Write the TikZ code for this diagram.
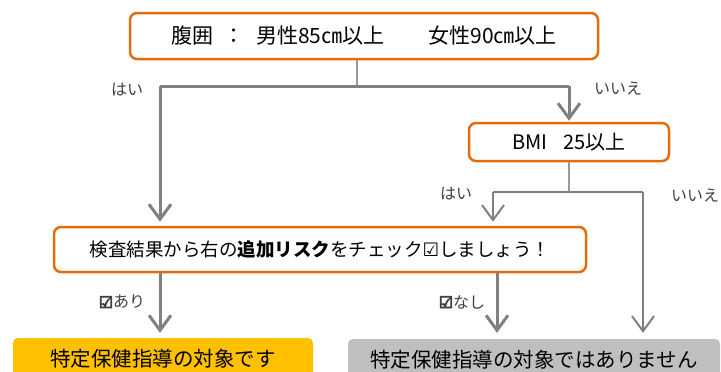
\documentclass[tikz,border=0pt]{standalone}
\usepackage{fontspec}
\setmainfont{Noto Sans CJK JP}
\newfontfamily\symfont{DejaVu Sans}
\newfontfamily\symboldfont[FakeBold=6]{DejaVu Sans}
\usepackage{tikz}
\usetikzlibrary{arrows.meta}
\usepackage{xcolor}
\definecolor{boxorange}{RGB}{228,108,10}
\definecolor{goldfill}{RGB}{255,192,0}
\definecolor{greyfill}{RGB}{191,191,191}
\definecolor{linegrey}{RGB}{128,128,128}
\definecolor{labelgrey}{RGB}{64,64,64}

\begin{document}
\begin{tikzpicture}[x=1pt, y=-1pt,
  question/.style={draw=boxorange, line width=2.5pt, rounded corners=7pt, fill=white, inner sep=0pt},
  result/.style={rounded corners=5pt, inner sep=0pt, minimum height=42pt, font=\fontsize{20.5pt}{24pt}\selectfont},
  answer/.style={text=labelgrey, inner sep=0pt, font=\fontsize{16pt}{19pt}\selectfont},
  flow/.style={draw=linegrey, line width=3pt},
  branch/.style={draw=linegrey, line width=2pt},
  stem/.style={draw=linegrey!80, line width=1.5pt},
  tip/.style={-{Straight Barb[length=15pt, width=22pt]}}]
  \clip (0,0) rectangle (721,372);
  % Questions
  \node[question, minimum width=468pt, minimum height=46pt, font=\fontsize{21pt}{24pt}\selectfont] (waist) at (364,36)
    {腹囲\hspace{10pt}：\hspace{12pt}男性85㎝以上\hspace{44pt}女性90㎝以上};
  \node[question, minimum width=200pt, minimum height=38pt, font=\fontsize{20pt}{24pt}\selectfont] (bmi) at (569,142)
    {BMI\hspace{16pt}25以上};
  \node[question, minimum width=532pt, minimum height=45pt, font=\fontsize{18.5pt}{22pt}\selectfont] (check) at (320,249.5)
    {検査結果から右の\textbf{追加リスク}をチェック{\symfont ☑}しましょう！};
  % Results
  \node[result, fill=goldfill, minimum width=300pt] (target) at (163,359) {特定保健指導の対象です};
  \node[result, fill=greyfill, minimum width=372pt] (nottarget) at (534,360) {特定保健指導の対象ではありません};
  % Answer labels
  \node[answer] (yesA) at (127,90) {はい};
  \node[answer] (noA) at (618,89) {いいえ};
  \node[answer] (yesB) at (456,194) {はい};
  \node[answer] (noB) at (695,196) {いいえ};
  \node[answer] (withrisk) at (122,302) {{\symboldfont ☑}あり};
  \node[answer] (norisk) at (462,302) {{\symboldfont ☑}なし};
  % Junctions
  \coordinate (yes1) at (160,86);
  \coordinate (no1) at (bmi.north |- yes1);
  \coordinate (yes2) at (493,192);
  \coordinate (no2) at (643,192);
  \coordinate (nashi) at (497,300);
  % Connectors
  \draw[stem] ([xshift=-7pt]waist.south) -- ([xshift=-7pt]waist.south |- yes1);
  \draw[flow] (yes1) -- (no1);
  \draw[flow, tip, shorten >=1pt] (no1) -- (bmi.north);
  \draw[flow, tip, shorten >=4pt] (yes1) -- (yes1 |- check.north);
  \draw[stem] (bmi.south) -- (bmi.south |- yes2);
  \draw[branch] (yes2) -- (no2);
  \draw[branch, tip, shorten >=4pt] (yes2) -- (yes2 |- check.north);
  \draw[branch, tip, shorten >=6pt] (no2) -- (no2 |- nottarget.north);
  \draw[flow, tip, shorten >=5pt] (yes1 |- check.south) -- (yes1 |- target.north);
  \draw[flow, tip, shorten >=6pt] (nashi |- check.south) -- (nashi |- nottarget.north);
\end{tikzpicture}
\end{document}
